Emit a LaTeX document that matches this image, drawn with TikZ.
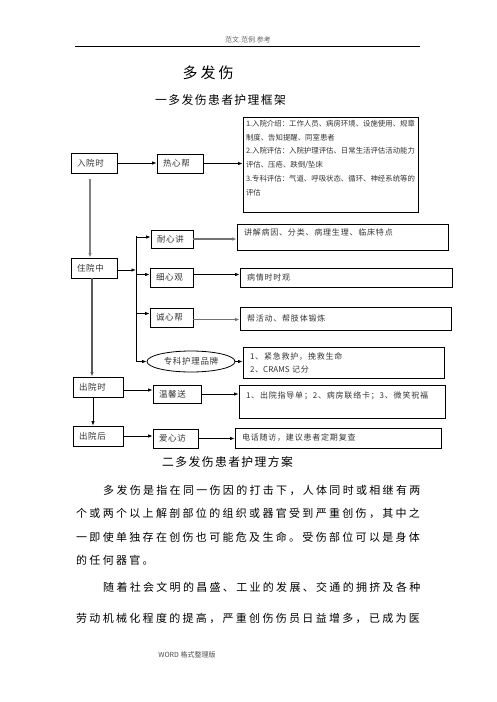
\documentclass[tikz,border=0pt]{standalone}
\usepackage{fontspec}
\newfontfamily\cjk{Noto Sans CJK SC}
\newfontfamily\cjkls[LetterSpace=21]{Noto Sans CJK SC}
\newfontfamily\cjkhd[LetterSpace=12]{Noto Sans CJK SC}
\newfontfamily\cjkti[LetterSpace=20]{Noto Sans CJK SC}
\newfontfamily\cjkdt[LetterSpace=10]{Noto Sans CJK SC}
\newfontfamily\cjklb[LetterSpace=8]{Noto Sans CJK SC}
\usetikzlibrary{arrows.meta,shapes.geometric,calc}
\begin{document}
\begin{tikzpicture}[x=1pt,y=-1pt,
  sbox/.style={draw, line width=0.8pt, inner xsep=6pt, inner ysep=0pt, align=left,
    text=black!80, font=\cjklb\fontsize{8.5}{10}\selectfont},
  dbox/.style={draw, line width=0.8pt, inner xsep=7pt, inner ysep=0pt, align=left,
    text=black!80, font=\cjkdt\fontsize{8}{13}\selectfont},
  arr/.style={-{Latex[length=4.5pt,width=3.5pt]}, line width=0.8pt},
  garr/.style={-{Latex[length=4.5pt,width=3.5pt]}, draw=black!55, line width=1.4pt},
  spine/.style={line width=1.6pt, draw=black!50},
  body/.style={anchor=west, inner sep=0pt, font=\cjkls\fontsize{11}{13}\selectfont},
  head/.style={anchor=west, inner sep=0pt, font=\cjkhd\fontsize{11.8}{13}\selectfont}]
\useasboundingbox (0,0) rectangle (496,702);

% header / footer
\node[inner sep=0pt, text=black!60, font=\cjk\fontsize{7}{8}\selectfont] (hdr) at (248,40) {范文.范例.参考};
\coordinate (hl) at (75,46);
\coordinate (hr) at (420,46);
\draw[line width=0.9pt] (hl) -- (hr);
\node[inner sep=0pt, text=black!70, font=\cjk\fontsize{7}{8}\selectfont] (ftr) at (187,655) {WORD 格式整理版};

% titles
\node[inner sep=0pt, font=\cjkti\fontsize{15}{17}\selectfont] (title) at (208,73) {多发伤};
\node[head] (h1) at (155,100) {一多发伤患者护理框架};
\node[head] (h2) at (162,462) {二多发伤患者护理方案};

% left column
\node[sbox, text width=34pt, minimum height=20pt] (ryt) at (94,163) {入院时};
\node[sbox, text width=34pt, minimum height=20pt] (zyz) at (94,268) {住院中};
\node[sbox, text width=38pt, minimum height=20pt] (cys) at (98,387) {出院时};
\node[sbox, text width=38pt, minimum height=20pt] (cyh) at (98,436) {出院后};

% middle column
\node[sbox, text width=34pt, minimum height=19pt] (rxb) at (180,163.5) {热心帮};
\node[sbox, text width=30pt, minimum height=18pt] (nxj) at (172,239) {耐心讲};
\node[sbox, text width=31pt, minimum height=19pt] (xxg) at (171.5,277.5) {细心观};
\node[sbox, text width=31pt, minimum height=19pt] (cxb) at (171.5,317.5) {诚心帮};
\node[draw, ellipse, line width=0.8pt, minimum width=88pt, minimum height=21pt, inner sep=0pt,
  text=black!80, font=\cjklb\fontsize{8.5}{10}\selectfont] (zk) at (191,361.5) {专科护理品牌};
\node[sbox, text width=36pt, minimum height=18pt] (wxs) at (177,394) {温馨送};
\node[sbox, text width=33pt, minimum height=19pt] (axf) at (175.5,438.5) {爱心访};

% right column
\node[draw, line width=0.8pt, inner xsep=3pt, inner ysep=0pt, text width=169pt, minimum height=95pt,
  align=left, text=black!80, font=\cjk\fontsize{7.4}{13.8}\selectfont] (big) at (330.5,164.5)
  {1.入院介绍：工作人员、病房环境、设施使用、规章\\制度、告知提醒、同室患者\\2.入院评估：入院护理评估、日常生活评估活动能力\\评估、压疮、跌倒/坠床\\3.专科评估：气道、呼吸状态、循环、神经系统等的\\评估\\\mbox{}};
\node[dbox, text width=197pt, minimum height=26pt] (d1) at (342.5,237) {讲解病因、分类、病理生理、临床特点\\[-4pt]\mbox{}};
\node[dbox, text width=198pt, minimum height=19pt] (d2) at (346,277.5) {病情时时观};
\node[dbox, text width=197pt, minimum height=23pt] (d3) at (345.5,318.5) {帮活动、帮肢体锻炼};
\node[dbox, text width=187pt, minimum height=31pt] (d4) at (343.5,362.5) {1、紧急救护，挽救生命\\2、{\cjk CRAMS} 记分};
\node[dbox, text width=192pt, minimum height=33pt] (d5) at (342,401.5) {1、出院指导单；2、病房联络卡；3、微笑祝福\\\mbox{}};
\node[dbox, text width=192pt, minimum height=20pt] (d6) at (338,438) {电话随访，建议患者定期复查};

% connectors
\draw[arr] (ryt.east) -- (rxb.west |- ryt.east);
\draw[arr] (rxb.east) -- (big.west |- rxb.east);
\draw[spine, -{Latex[length=4.5pt,width=3.5pt]}] ($(ryt.south)+(-4,6)$) -- ($(zyz.north)+(-4,0)$);
\coordinate (ttop) at (136,236);
\coordinate (tbot) at (136,361.5);
\draw[line width=0.9pt] (ttop) -- (tbot);
\draw[arr] ($(zyz.east)+(0,2)$) -- ($(zyz.east -| ttop)+(0,2)$);
\draw[arr] ($(ttop |- nxj.west)+(0,-2)$) -- ($(nxj.west)+(0,-2)$);
\draw[arr] ($(ttop |- xxg.west)+(0,-3)$) -- ($(xxg.west)+(0,-3)$);
\draw[arr] ($(ttop |- cxb.west)+(0,-4)$) -- ($(cxb.west)+(0,-4)$);
\draw[arr] (tbot) -- (zk.west);
\draw[garr] (nxj.east) -- (d1.west |- nxj.east);
\draw[arr] ($(xxg.east)+(0,-3)$) -- ($(d2.west |- xxg.east)+(0,-3)$);
\draw[garr] ($(cxb.east)+(0,2)$) -- ($(d3.west |- cxb.east)+(0,2)$);
\draw[arr] (zk.east) -- (d4.west |- zk.east);
\draw[spine, draw=black!65, -{Latex[length=4.5pt,width=3.5pt]}] ($(zyz.south)+(-2,0)$) -- ($(cys.north -| zyz.south)+(-2,0)$);
\draw[arr] ($(cys.east)+(0,3)$) -- ($(wxs.west |- cys.east)+(0,3)$);
\draw[arr] (wxs.east) -- (d5.west |- wxs.east);
\draw[arr] ($(cys.south)+(-5,0)$) -- ($(cyh.north)+(-5,0)$);
\draw[arr] (cyh.east) -- (axf.west |- cyh.east);
\draw[arr] (axf.east) -- (d6.west |- axf.east);

% body text
\node[body] (p1) at (103,490) {多发伤是指在同一伤因的打击下，人体同时或相继有两};
\node[body] (p2) at (76,513) {个或两个以上解剖部位的组织或器官受到严重创伤，其中之};
\node[body] (p3) at (76,537) {一即使单独存在创伤也可能危及生命。受伤部位可以是身体};
\node[body] (p4) at (76,560) {的任何器官。};
\node[body] (p5) at (103,587) {随着社会文明的昌盛、工业的发展、交通的拥挤及各种};
\node[body] (p6) at (76,618) {劳动机械化程度的提高，严重创伤伤员日益增多，已成为医};
\end{tikzpicture}
\end{document}
